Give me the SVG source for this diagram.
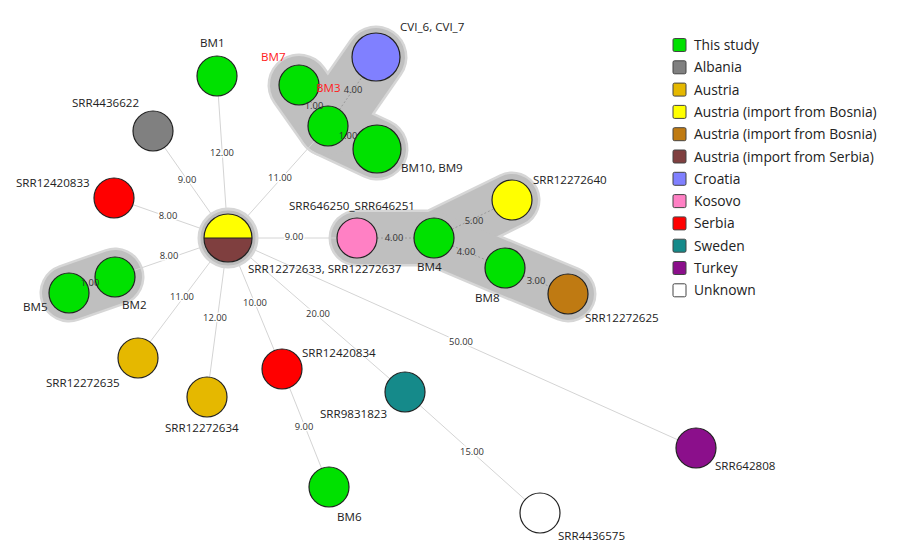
<svg xmlns="http://www.w3.org/2000/svg" width="900" height="557" viewBox="0 0 900 557">
<style>
.hullo{fill:none;stroke:#d6d6d6;stroke-linecap:round;stroke-linejoin:round}
.hulli{fill:none;stroke:#bfbfbf;stroke-linecap:round;stroke-linejoin:round}
.edge{stroke:#d4d4d4;stroke-width:1;fill:none}
.cedge{stroke:#9a9a9a;stroke-width:1;stroke-dasharray:2 2;fill:none}
.n{stroke:#222;stroke-width:1.2}
.lbl{font-family:"Open Sans","Liberation Sans",sans-serif;font-size:11.6px;fill:#222}
.red{fill:#ff2020}
.el{font-family:"Open Sans","Liberation Sans",sans-serif;font-size:9.4px;fill:#333;text-anchor:middle}
.elh{paint-order:stroke;stroke:#fff;stroke-width:3px}
.leg{font-family:"Open Sans","Liberation Sans",sans-serif;font-size:13.8px;fill:#222}
.sw{stroke:#444;stroke-width:1}
.green{fill:#00e100}.gray{fill:#808080}.gold{fill:#e5b800}.yellow{fill:#ffff00}.bosnia{fill:#bf7a12}
.serbimp{fill:#7f3f3f}.croatia{fill:#8080ff}.kosovo{fill:#ff80c4}.serbia{fill:#ff0000}.sweden{fill:#158a8a}.turkey{fill:#8b0f8b}.unknown{fill:#ffffff}
</style>

<g id="clusters">
  <polyline class="hullo" stroke-width="63" points="299,85 328,126 377,149"/>
  <polyline class="hullo" stroke-width="63" points="328,126 376,57"/>
  <polyline class="hullo" stroke-width="57" points="357,238 434,238 512,200"/>
  <polyline class="hullo" stroke-width="57" points="434,238 505,268 568,294"/>
  <polyline class="hullo" stroke-width="59" points="69,293 115,277"/>
  <polyline class="hulli" stroke-width="58" points="299,85 328,126 377,149"/>
  <polyline class="hulli" stroke-width="58" points="328,126 376,57"/>
  <polyline class="hulli" stroke-width="52" points="357,238 434,238 512,200"/>
  <polyline class="hulli" stroke-width="52" points="434,238 505,268 568,294"/>
  <polyline class="hulli" stroke-width="54" points="69,293 115,277"/>
</g>

<g id="connectors">
  <line class="edge" x1="228" y1="238" x2="217" y2="76"/>
  <line class="edge" x1="228" y1="238" x2="153" y2="131"/>
  <line class="edge" x1="228" y1="238" x2="114" y2="198"/>
  <line class="edge" x1="228" y1="238" x2="115" y2="277"/>
  <line class="edge" x1="228" y1="238" x2="138" y2="358"/>
  <line class="edge" x1="228" y1="238" x2="207" y2="397"/>
  <line class="edge" x1="228" y1="238" x2="282" y2="369"/>
  <line class="edge" x1="228" y1="238" x2="405" y2="392"/>
  <line class="edge" x1="228" y1="238" x2="696" y2="448"/>
  <line class="edge" x1="228" y1="238" x2="328" y2="126"/>
  <line class="edge" x1="228" y1="238" x2="357" y2="238"/>
  <line class="edge" x1="282" y1="369" x2="329" y2="487"/>
  <line class="edge" x1="405" y1="392" x2="540" y2="513"/>
  <line class="cedge" x1="299" y1="85" x2="328" y2="126"/>
  <line class="cedge" x1="328" y1="126" x2="377" y2="149"/>
  <line class="cedge" x1="328" y1="126" x2="376" y2="57"/>
  <line class="cedge" x1="69" y1="293" x2="115" y2="277"/>
  <line class="cedge" x1="357" y1="238" x2="434" y2="238"/>
  <line class="cedge" x1="434" y1="238" x2="512" y2="200"/>
  <line class="cedge" x1="434" y1="238" x2="505" y2="268"/>
  <line class="cedge" x1="505" y1="268" x2="568" y2="294"/>
</g>

<g id="center">
  <circle cx="228" cy="238" r="29" fill="#bdbdbd" stroke="#d6d6d6" stroke-width="3"/>
  <path d="M204,238 A24,24 0 0 1 252,238 Z" class="yellow"/>
  <path d="M204,238 A24,24 0 0 0 252,238 Z" class="serbimp"/>
  <line x1="204" y1="238" x2="252" y2="238" stroke="#222" stroke-width="1.2"/>
  <circle cx="228" cy="238" r="24" fill="none" class="n"/>
  <text class="lbl" x="248" y="273">SRR12272633, SRR12272637</text>
</g>
<g id="BM1"><circle class="n green" cx="217" cy="76" r="20"/><text class="lbl" x="200" y="47">BM1</text></g>
<g id="BM7"><circle class="n green" cx="299" cy="85" r="20"/><text class="lbl red" x="261" y="61">BM7</text></g>
<g id="CVI"><circle class="n croatia" cx="376" cy="57" r="24"/><text class="lbl" x="400" y="31">CVI_6, CVI_7</text></g>
<g id="BM3"><circle class="n green" cx="328" cy="126" r="20"/><text class="lbl red" x="316" y="91.5">BM3</text></g>
<g id="BM10"><circle class="n green" cx="377" cy="149" r="24"/><text class="lbl" x="401" y="172">BM10, BM9</text></g>
<g id="SRR4436622"><circle class="n gray" cx="153" cy="131" r="20"/><text class="lbl" x="72" y="107">SRR4436622</text></g>
<g id="SRR12420833"><circle class="n serbia" cx="114" cy="198" r="20"/><text class="lbl" x="16" y="187">SRR12420833</text></g>
<g id="BM5"><circle class="n green" cx="69" cy="293" r="20"/><text class="lbl" x="23" y="310.5">BM5</text></g>
<g id="BM2"><circle class="n green" cx="115" cy="277" r="20"/><text class="lbl" x="122" y="309">BM2</text></g>
<g id="SRR12272635"><circle class="n gold" cx="138" cy="358" r="20"/><text class="lbl" x="46" y="386.5">SRR12272635</text></g>
<g id="SRR12272634"><circle class="n gold" cx="207" cy="397" r="20"/><text class="lbl" x="165" y="431.5">SRR12272634</text></g>
<g id="SRR12420834"><circle class="n serbia" cx="282" cy="369" r="20"/><text class="lbl" x="302" y="356.5">SRR12420834</text></g>
<g id="SRR9831823"><circle class="n sweden" cx="405" cy="392" r="20"/><text class="lbl" x="320" y="417.5">SRR9831823</text></g>
<g id="BM6"><circle class="n green" cx="329" cy="487" r="20"/><text class="lbl" x="337" y="520.5">BM6</text></g>
<g id="SRR642808"><circle class="n turkey" cx="696" cy="448" r="20"/><text class="lbl" x="715" y="470">SRR642808</text></g>
<g id="SRR4436575"><circle class="n unknown" cx="540" cy="513" r="20"/><text class="lbl" x="558" y="540">SRR4436575</text></g>
<g id="SRR646250"><circle class="n kosovo" cx="357" cy="238" r="20"/><text class="lbl" x="289" y="210">SRR646250_SRR646251</text></g>
<g id="BM4"><circle class="n green" cx="434" cy="238" r="20"/><text class="lbl" x="417" y="271">BM4</text></g>
<g id="SRR12272640"><circle class="n yellow" cx="512" cy="200" r="20"/><text class="lbl" x="533" y="184">SRR12272640</text></g>
<g id="BM8"><circle class="n green" cx="505" cy="268" r="20"/><text class="lbl" x="475" y="301.5">BM8</text></g>
<g id="SRR12272625"><circle class="n bosnia" cx="568" cy="294" r="20"/><text class="lbl" x="585" y="322">SRR12272625</text></g>

<g id="edge-labels">
  <text class="el elh" x="222" y="156.3">12.00</text>
  <text class="el elh" x="187" y="183.3">9.00</text>
  <text class="el elh" x="168" y="219.3">8.00</text>
  <text class="el elh" x="169" y="259.3">8.00</text>
  <text class="el elh" x="182" y="300.3">11.00</text>
  <text class="el elh" x="215" y="321.3">12.00</text>
  <text class="el elh" x="255" y="306.3">10.00</text>
  <text class="el elh" x="318" y="317.3">20.00</text>
  <text class="el elh" x="461" y="345.3">50.00</text>
  <text class="el elh" x="280" y="181.3">11.00</text>
  <text class="el elh" x="294" y="240.3">9.00</text>
  <text class="el elh" x="304" y="430.3">9.00</text>
  <text class="el elh" x="472" y="455.3">15.00</text>
  <text class="el" x="314" y="109.3">1.00</text>
  <text class="el" x="348" y="139.3">1.00</text>
  <text class="el" x="353" y="93.3">4.00</text>
  <text class="el" x="90" y="286.3">1.00</text>
  <text class="el" x="394" y="241.3">4.00</text>
  <text class="el" x="474" y="224.3">5.00</text>
  <text class="el" x="466" y="255.3">4.00</text>
  <text class="el" x="536" y="284.3">3.00</text>
</g>

<g id="legend">
  <rect class="sw green" x="673" y="38.5" width="13" height="13" rx="1.5"/><text class="leg" x="694" y="50">This study</text>
  <rect class="sw gray" x="673" y="60.8" width="13" height="13" rx="1.5"/><text class="leg" x="694" y="72.3">Albania</text>
  <rect class="sw gold" x="673" y="83.1" width="13" height="13" rx="1.5"/><text class="leg" x="694" y="94.6">Austria</text>
  <rect class="sw yellow" x="673" y="105.4" width="13" height="13" rx="1.5"/><text class="leg" x="694" y="116.9">Austria (import from Bosnia)</text>
  <rect class="sw bosnia" x="673" y="127.7" width="13" height="13" rx="1.5"/><text class="leg" x="694" y="139.2">Austria (import from Bosnia)</text>
  <rect class="sw serbimp" x="673" y="150" width="13" height="13" rx="1.5"/><text class="leg" x="694" y="161.5">Austria (import from Serbia)</text>
  <rect class="sw croatia" x="673" y="172.3" width="13" height="13" rx="1.5"/><text class="leg" x="694" y="183.8">Croatia</text>
  <rect class="sw kosovo" x="673" y="194.6" width="13" height="13" rx="1.5"/><text class="leg" x="694" y="206.1">Kosovo</text>
  <rect class="sw serbia" x="673" y="216.9" width="13" height="13" rx="1.5"/><text class="leg" x="694" y="228.4">Serbia</text>
  <rect class="sw sweden" x="673" y="239.2" width="13" height="13" rx="1.5"/><text class="leg" x="694" y="250.7">Sweden</text>
  <rect class="sw turkey" x="673" y="261.5" width="13" height="13" rx="1.5"/><text class="leg" x="694" y="273">Turkey</text>
  <rect class="sw unknown" x="673" y="283.8" width="13" height="13" rx="1.5"/><text class="leg" x="694" y="295.3">Unknown</text>
</g>
</svg>
